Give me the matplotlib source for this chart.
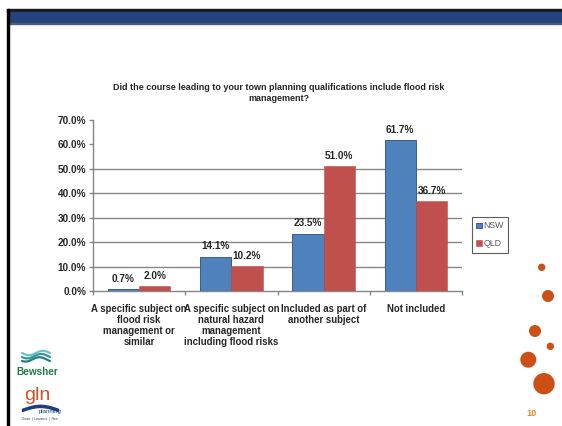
import matplotlib
matplotlib.use("Agg")
import matplotlib.pyplot as plt
import numpy as np
from matplotlib.patches import Rectangle, Circle

plt.rcParams['font.family'] = ['Liberation Sans', 'DejaVu Sans']

categories = ["A specific subject on\nflood risk\nmanagement or\nsimilar",
              "A specific subject on\nnatural hazard\nmanagement\nincluding flood risks",
              "Included as part of\nanother subject",
              "Not included"]
series_names = ["NSW", "QLD"]
nsw = [0.7, 14.1, 23.5, 61.7]
qld = [2.0, 10.2, 51.0, 36.7]
yticks = [0, 10, 20, 30, 40, 50, 60, 70]
title = "Did the course leading to your town planning qualifications include flood risk\nmanagement?"

W, H = 562, 426
fig = plt.figure(figsize=(W / 100, H / 100), dpi=100)

# slide overlay in pixel coords
ov = fig.add_axes([0, 0, 1, 1], zorder=0)
ov.set_xlim(0, W)
ov.set_ylim(H, 0)
ov.axis('off')
ov.add_patch(Rectangle((7, 9), W - 7, 3, color='#1a1a1a'))
ov.add_patch(Rectangle((9, 12), W - 9, 11, color='#24437F'))
ov.add_patch(Rectangle((9, 22.5), W - 9, 1.5, color='#4a6078'))
ov.add_patch(Rectangle((7, 9), 2.2, H - 9, color='#000000'))

# decorative circles
for (cx, cy, r) in [(541.7, 267.3, 3), (548, 296, 5.3), (535, 331, 5.3),
                    (550.3, 346.3, 3), (528.3, 359.7, 7.3), (544, 383.7, 10)]:
    ov.add_patch(Circle((cx, cy), r, color='#CC5016'))
ov.text(531, 413, "10", color='#EE8A2A', fontsize=6.5, fontweight='bold',
        ha='center', va='center')

# logos (approximate)
xs = np.linspace(22, 50, 40)
for i, (col, off) in enumerate([('#6FC3C3', 0), ('#2E9A9A', 3.2), ('#1F7F8A', 6.4)]):
    ov.plot(xs, 353 + off + 2.2 * np.sin((xs - 22) / 28 * 2 * np.pi + i * 0.4),
            color=col, lw=1.6, solid_capstyle='round')
ov.text(37, 372, "Bewsher", color='#1E7B4A', fontsize=7.2, fontweight='bold',
        ha='center', va='center')
ov.text(37, 396, "gln", color='#D2502A', fontsize=14, ha='center', va='center')
sx = np.linspace(22, 58, 40)
ov.fill_between(sx, 410 - 4 * np.sin((sx - 22) / 36 * np.pi) + 1,
                410 - 4 * np.sin((sx - 22) / 36 * np.pi) - 1.2, color='#1F3E7A')
ov.text(50, 411, "planning", color='#1F3E7A', fontsize=4.3, ha='center', va='center')
ov.text(40, 419, "Green  |  Lawrence  |  New", color='#1F3E7A', fontsize=2.2,
        ha='center', va='center')

# chart axes
left, right, bottom, top = 93 / W, 462 / W, 1 - 291 / H, 1 - 120 / H
ax = fig.add_axes([left, bottom, right - left, top - bottom], zorder=2)
ax.patch.set_alpha(0)

x = np.arange(len(categories))
bw = 0.34
b1 = ax.bar(x - bw / 2, nsw, bw, color='#4F81BD', edgecolor='#385D8A', lw=0.7,
            label=series_names[0], zorder=3)
b2 = ax.bar(x + bw / 2, qld, bw, color='#C0504D', edgecolor='#C0504D', lw=0.4,
            label=series_names[1], zorder=3)
for bars, vals in [(b1, nsw), (b2, qld)]:
    for rect, v in zip(bars, vals):
        ax.annotate(f"{v:.1f}%", (rect.get_x() + rect.get_width() / 2, v),
                    xytext=(0, 4), textcoords='offset points', ha='center',
                    va='bottom', fontsize=7.2, fontweight='bold', color='#262626',
                    zorder=4)

ax.set_xlim(-0.5, len(categories) - 0.5)
ax.set_ylim(0, 70)
ax.set_yticks(yticks)
ax.set_yticklabels([f"{t:.1f}%" for t in yticks], fontsize=7.2, fontweight='bold',
                   color='#262626')
for t in yticks[1:6]:
    ax.axhline(t, color='#868686', lw=1.0, zorder=1)

ax.set_xticks(np.arange(-0.5, len(categories), 1.0))
ax.set_xticklabels([])
ax.tick_params(axis='x', length=3, color='#868686', width=1)
ax.tick_params(axis='y', length=3, color='#868686', width=1, pad=2)
for i, c in enumerate(categories):
    ax.text(i, -5.2, c, ha='center', va='top', fontsize=6.9, fontweight='bold',
            color='#262626', linespacing=1.15)

for s in ['top', 'right']:
    ax.spines[s].set_visible(False)
for s in ['left', 'bottom']:
    ax.spines[s].set_color('#868686')
    ax.spines[s].set_linewidth(1.0)

fig.text(279 / W, 1 - 93 / H, title, ha='center', va='center', fontsize=6.5,
         fontweight='bold', color='#262626', linespacing=1.3)

leg = fig.legend(handles=[b1, b2], labels=series_names, loc='upper left',
                 bbox_to_anchor=(472 / W, 1 - 217 / H), fontsize=6.3,
                 frameon=True, fancybox=False, handlelength=0.6, handleheight=0.6,
                 handletextpad=0.2, borderpad=0.5, labelspacing=1.0,
                 borderaxespad=0)
leg.get_frame().set_edgecolor('#333333')
leg.get_frame().set_linewidth(0.8)
for t in leg.get_texts():
    t.set_color('#595959')

fig.savefig("out.png", dpi=100)
